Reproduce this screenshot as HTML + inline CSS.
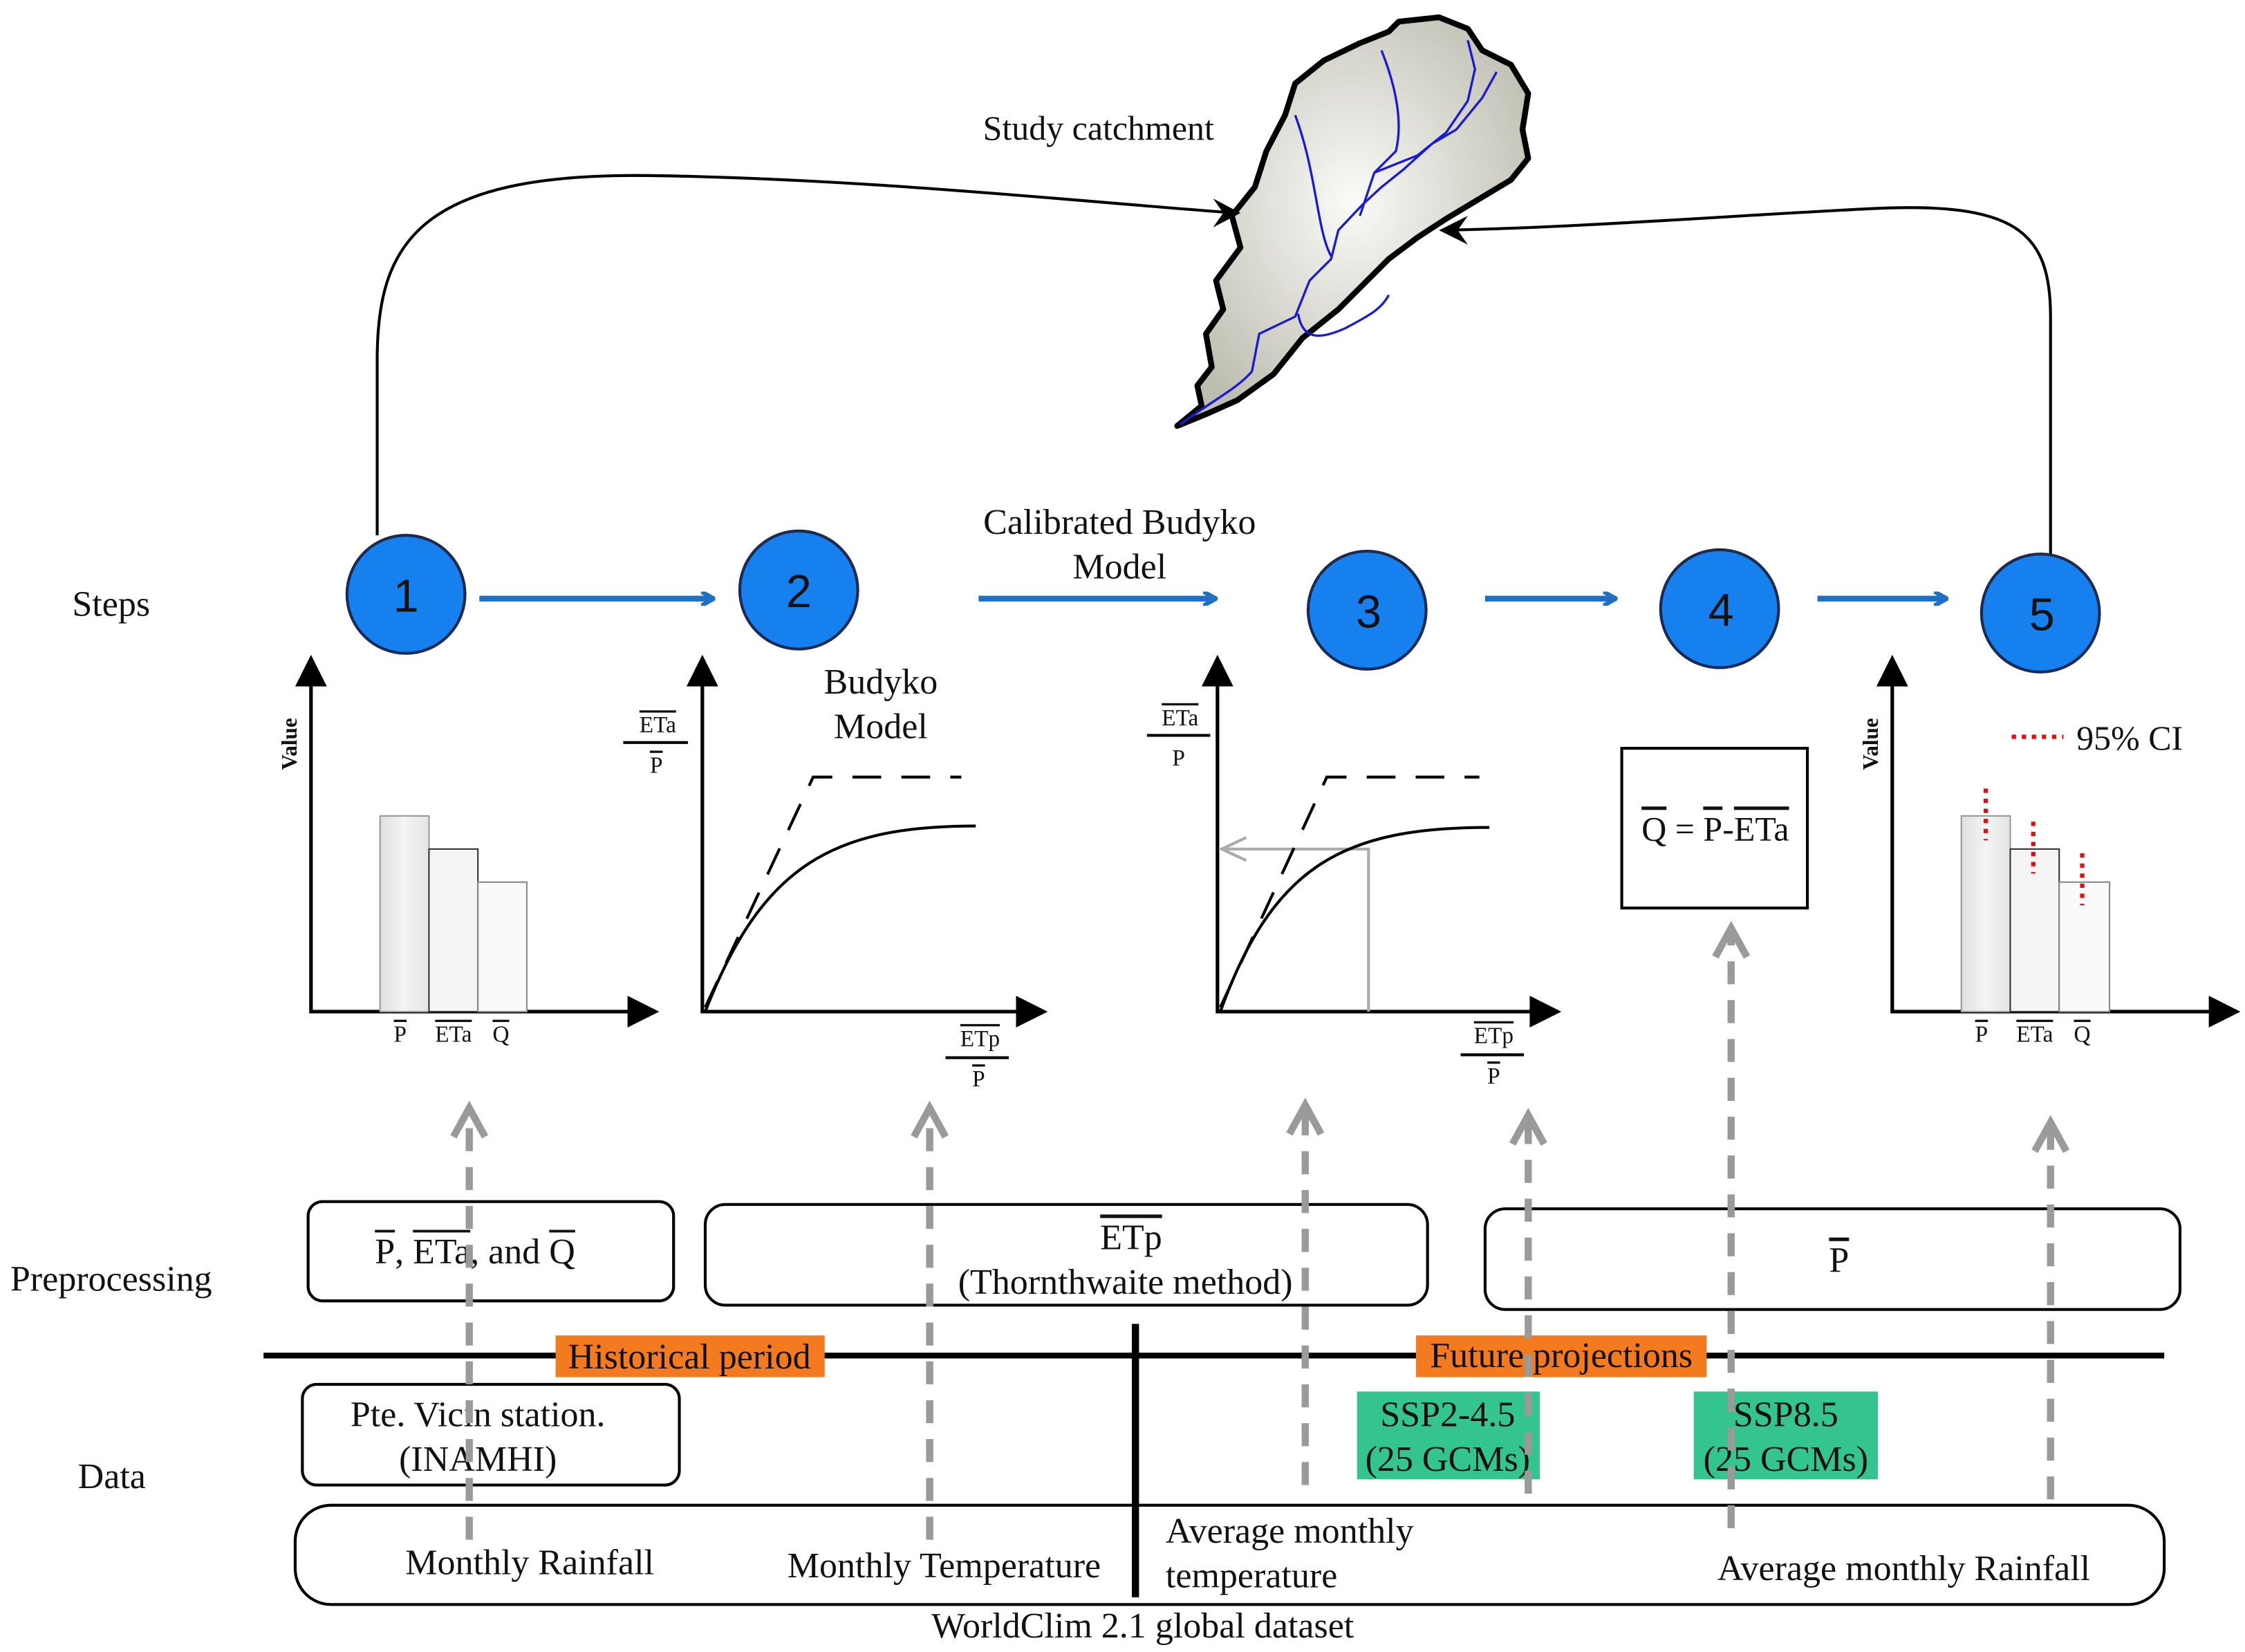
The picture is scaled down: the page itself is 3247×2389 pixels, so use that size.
<!DOCTYPE html>
<html><head><meta charset="utf-8"><style>html,body{margin:0;padding:0;background:#fff}svg{display:block}text{font-family:"Liberation Serif",serif;fill:#111}</style></head>
<body>
<svg width="3247" height="2389" viewBox="0 0 1560 1148" xmlns="http://www.w3.org/2000/svg">
<defs>
<radialGradient id="cg" cx="0.5" cy="0.45" r="0.6"><stop offset="0" stop-color="#fafaf8"/><stop offset="1" stop-color="#bdbdb0"/></radialGradient>
<linearGradient id="bg" x1="0" x2="1"><stop offset="0" stop-color="#e0e0e0"/><stop offset="0.5" stop-color="#f4f4f4"/><stop offset="1" stop-color="#e4e4e4"/></linearGradient>
<marker id="ba" markerWidth="10" markerHeight="10" refX="8" refY="5" orient="auto" markerUnits="userSpaceOnUse"><path d="M0,0 L9,5 L0,10" fill="none" stroke="#1f6fc4" stroke-width="3"/></marker>
</defs>
<!-- catchment -->
<text x="683" y="97" font-size="24">Study catchment</text>
<path d="M818,296 L835,282 L832,268 L842,255 L838,232 L850,215 L845,195 L862,172 L856,150 L872,130 L880,105 L893,80 L900,58 L920,42 L945,30 L965,22 L972,15 L1000,12 L1020,20 L1030,35 L1050,45 L1062,65 L1058,90 L1062,110 L1050,125 L1025,140 L1005,152 L985,165 L965,180 L945,200 L930,215 L905,235 L885,260 L860,278 L840,287 Z" fill="url(#cg)" stroke="#000" stroke-width="4" stroke-linejoin="round"/>
<g fill="none" stroke="#1a1ad0" stroke-width="1.6">
<path d="M820,295 C840,280 860,270 870,258 L875,232 L900,220 L910,195 L925,180 L930,160 L947,142 L960,130 L975,118 L995,100 L1012,90 L1030,68 L1040,50"/>
<path d="M925,178 C915,160 915,120 900,80"/>
<path d="M945,150 L955,120 L970,105 C975,85 970,60 960,35"/>
<path d="M955,120 L985,108 L1005,92 L1020,70 L1025,48 L1020,28"/>
<path d="M902,218 C905,235 915,237 935,228 C950,220 960,215 965,205"/>
</g>
<!-- top connectors -->
<path d="M262,372 L262,250 C262,170 290,120 450,122 C600,124 750,140 858,148" fill="none" stroke="#000" stroke-width="2"/>
<path d="M843,138 L862,148 L843,158 L850,148 Z" fill="#000"/>
<path d="M1425,385 L1425,220 C1425,160 1400,140 1300,145 C1200,150 1100,158 1003,160" fill="none" stroke="#000" stroke-width="2"/>
<path d="M1020,150 L1000,160 L1020,170 L1013,160 Z" fill="#000"/>
<!-- steps -->
<text x="50" y="428" font-size="25">Steps</text>
<text x="778" y="371" font-size="25" text-anchor="middle">Calibrated Budyko</text>
<text x="778" y="402" font-size="25" text-anchor="middle">Model</text>
<g stroke="#1f6fc4" stroke-width="4" marker-end="url(#ba)">
<line x1="333" y1="416" x2="495" y2="416"/><line x1="680" y1="416" x2="844" y2="416"/>
<line x1="1032" y1="416" x2="1122" y2="416"/><line x1="1263" y1="416" x2="1352" y2="416"/>
</g>
<g fill="#1580ee" stroke="#1a2a50" stroke-width="2">
<circle cx="282" cy="413" r="41"/><circle cx="555" cy="410" r="41"/><circle cx="950" cy="424" r="41"/><circle cx="1195" cy="423" r="41"/><circle cx="1418" cy="426" r="41"/>
</g>
<g font-family="Liberation Sans" font-size="32" text-anchor="middle" fill="#000">
<text x="282" y="425" style="font-family:'Liberation Sans',sans-serif">1</text><text x="555" y="422" style="font-family:'Liberation Sans',sans-serif">2</text><text x="951" y="436" style="font-family:'Liberation Sans',sans-serif">3</text><text x="1196" y="435" style="font-family:'Liberation Sans',sans-serif">4</text><text x="1419" y="438" style="font-family:'Liberation Sans',sans-serif">5</text>
</g>
<!-- axes -->
<g stroke="#000" stroke-width="2.5" fill="none">
<path d="M216,470 L216,703 L445,703"/><path d="M488,470 L488,703 L715,703"/><path d="M846,470 L846,703 L1072,703"/><path d="M1315,470 L1315,703 L1545,703"/>
</g>
<g fill="#000">
<path d="M205,477 L216,455 L227,477Z"/><path d="M436,692 L458,703 L436,714Z"/>
<path d="M477,477 L488,455 L499,477Z"/><path d="M706,692 L728,703 L706,714Z"/>
<path d="M835,477 L846,455 L857,477Z"/><path d="M1063,692 L1085,703 L1063,714Z"/>
<path d="M1304,477 L1315,455 L1326,477Z"/><path d="M1535,692 L1557,703 L1535,714Z"/>
</g>
<!-- chart1 -->
<text transform="translate(206,517) rotate(-90)" font-size="15" font-weight="bold" text-anchor="middle">Value</text>
<rect x="264" y="567" width="34" height="136" fill="url(#bg)" stroke="#999" stroke-width="1"/>
<rect x="298" y="590" width="34" height="113" fill="#f5f5f5" stroke="#333" stroke-width="1"/>
<rect x="332" y="613" width="34" height="90" fill="#fafafa" stroke="#888" stroke-width="1"/>
<g font-size="16" text-anchor="middle"><text x="278" y="724" text-decoration="overline">P</text><text x="315" y="724" text-decoration="overline">ETa</text><text x="348" y="724" text-decoration="overline">Q</text></g>
<!-- chart2 -->
<text x="457" y="509" font-size="16" text-anchor="middle" text-decoration="overline">ETa</text>
<line x1="433" y1="516" x2="478" y2="516" stroke="#000" stroke-width="2"/>
<text x="456" y="537" font-size="16" text-anchor="middle" text-decoration="overline">P</text>
<text x="612" y="482" font-size="25" text-anchor="middle">Budyko</text>
<text x="612" y="513" font-size="25" text-anchor="middle">Model</text>
<path d="M490,700 L565,540 L668,540" fill="none" stroke="#000" stroke-width="2" stroke-dasharray="20,14"/>
<path d="M490,703 C530,600 580,574 678,574" fill="none" stroke="#000" stroke-width="2"/>
<text x="681" y="727" font-size="16" text-anchor="middle" text-decoration="overline">ETp</text>
<line x1="657" y1="735" x2="701" y2="735" stroke="#000" stroke-width="2"/>
<text x="680" y="755" font-size="16" text-anchor="middle" text-decoration="overline">P</text>
<!-- chart3 -->
<text x="820" y="504" font-size="16" text-anchor="middle" text-decoration="overline">ETa</text>
<line x1="797" y1="511" x2="841" y2="511" stroke="#000" stroke-width="2"/>
<text x="819" y="532" font-size="16" text-anchor="middle">P</text>
<path d="M951,703 L951,590 L850,590" fill="none" stroke="#aaa" stroke-width="2"/>
<path d="M866,582 L849,590 L866,598" fill="none" stroke="#aaa" stroke-width="2"/>
<path d="M848,700 L922,540 L1028,540" fill="none" stroke="#000" stroke-width="2" stroke-dasharray="20,14"/>
<path d="M848,703 C885,600 935,575 1035,575" fill="none" stroke="#000" stroke-width="2"/>
<text x="1038" y="725" font-size="16" text-anchor="middle" text-decoration="overline">ETp</text>
<line x1="1015" y1="733" x2="1059" y2="733" stroke="#000" stroke-width="2"/>
<text x="1038" y="753" font-size="16" text-anchor="middle" text-decoration="overline">P</text>
<!-- box4 -->
<rect x="1127" y="520" width="129" height="111" fill="#fff" stroke="#000" stroke-width="2"/>
<text x="1192" y="584" font-size="24" text-anchor="middle"><tspan text-decoration="overline">Q</tspan> = <tspan text-decoration="overline">P</tspan>-<tspan text-decoration="overline">ETa</tspan></text>
<!-- chart5 -->
<text transform="translate(1305,517) rotate(-90)" font-size="15" font-weight="bold" text-anchor="middle">Value</text>
<rect x="1363" y="567" width="34" height="136" fill="url(#bg)" stroke="#999" stroke-width="1"/>
<rect x="1397" y="590" width="34" height="113" fill="#f5f5f5" stroke="#333" stroke-width="1"/>
<rect x="1431" y="613" width="35" height="90" fill="#fafafa" stroke="#888" stroke-width="1"/>
<g stroke="#e01010" stroke-width="3" stroke-dasharray="3,4">
<line x1="1380" y1="548" x2="1380" y2="584"/><line x1="1413" y1="571" x2="1413" y2="607"/><line x1="1447" y1="593" x2="1447" y2="629"/><line x1="1398" y1="512" x2="1434" y2="512"/>
</g>
<text x="1443" y="521" font-size="24">95% CI</text>
<g font-size="16" text-anchor="middle"><text x="1377" y="724" text-decoration="overline">P</text><text x="1414" y="724" text-decoration="overline">ETa</text><text x="1447" y="724" text-decoration="overline">Q</text></g>
<!-- preprocessing -->
<text x="7" y="897" font-size="25">Preprocessing</text>
<text x="54" y="1034" font-size="25">Data</text>
<g fill="none" stroke="#000" stroke-width="2">
<rect x="214" y="835" width="254" height="69" rx="10"/>
<rect x="490" y="837" width="502" height="70" rx="14"/>
<rect x="1032" y="840" width="483" height="70" rx="14"/>
<rect x="210" y="962" width="262" height="70" rx="10"/>
<rect x="205" y="1046" width="1299" height="69" rx="25"/>
</g>
<text x="330" y="878" font-size="25" text-anchor="middle"><tspan text-decoration="overline">P</tspan>, <tspan text-decoration="overline">ETa</tspan>, and <tspan text-decoration="overline">Q</tspan></text>
<text x="786" y="868" font-size="25" text-anchor="middle" text-decoration="overline">ETp</text>
<text x="782" y="899" font-size="25" text-anchor="middle">(Thornthwaite method)</text>
<text x="1278" y="884" font-size="25" text-anchor="middle" text-decoration="overline">P</text>
<line x1="183" y1="942" x2="1504" y2="942" stroke="#000" stroke-width="4"/>
<line x1="789" y1="920" x2="789" y2="1110" stroke="#000" stroke-width="5"/>
<rect x="386" y="928" width="187" height="29" fill="#f47a20"/>
<rect x="984" y="928" width="202" height="29" fill="#f47a20"/>
<text x="479" y="951" font-size="25" text-anchor="middle">Historical period</text>
<text x="1085" y="950" font-size="25" text-anchor="middle">Future projections</text>
<text x="332" y="991" font-size="25" text-anchor="middle">Pte. Vicin station.</text>
<text x="332" y="1022" font-size="25" text-anchor="middle">(INAMHI)</text>
<rect x="943" y="967" width="127" height="61" fill="#33c48f"/>
<rect x="1177" y="967" width="128" height="61" fill="#33c48f"/>
<text x="1006" y="991" font-size="25" text-anchor="middle">SSP2-4.5</text>
<text x="1006" y="1022" font-size="25" text-anchor="middle">(25 GCMs)</text>
<text x="1241" y="991" font-size="25" text-anchor="middle">SSP8.5</text>
<text x="1241" y="1022" font-size="25" text-anchor="middle">(25 GCMs)</text>
<text x="368" y="1094" font-size="25" text-anchor="middle">Monthly Rainfall</text>
<text x="656" y="1096" font-size="25" text-anchor="middle">Monthly Temperature</text>
<text x="810" y="1072" font-size="25">Average monthly</text>
<text x="810" y="1103" font-size="25">temperature</text>
<text x="1323" y="1098" font-size="25" text-anchor="middle">Average monthly Rainfall</text>
<text x="794" y="1138" font-size="25" text-anchor="middle">WorldClim 2.1 global dataset</text>
<!-- gray dashed arrows -->
<g stroke="#9a9a9a" stroke-width="5" fill="none" stroke-dasharray="16,11">
<line x1="326" y1="1070" x2="326" y2="775"/><line x1="646" y1="1070" x2="646" y2="775"/><line x1="907" y1="1032" x2="907" y2="773"/><line x1="1062" y1="1038" x2="1062" y2="780"/><line x1="1203" y1="1062" x2="1203" y2="650"/><line x1="1425" y1="1042" x2="1425" y2="785"/>
</g>
<g stroke="#9a9a9a" stroke-width="5" fill="none">
<path d="M315,790 L326,770 L337,790"/><path d="M635,790 L646,770 L657,790"/><path d="M896,788 L907,768 L918,788"/><path d="M1051,795 L1062,775 L1073,795"/><path d="M1192,665 L1203,645 L1214,665"/><path d="M1414,800 L1425,780 L1436,800"/>
</g>
</svg>
</body></html>
